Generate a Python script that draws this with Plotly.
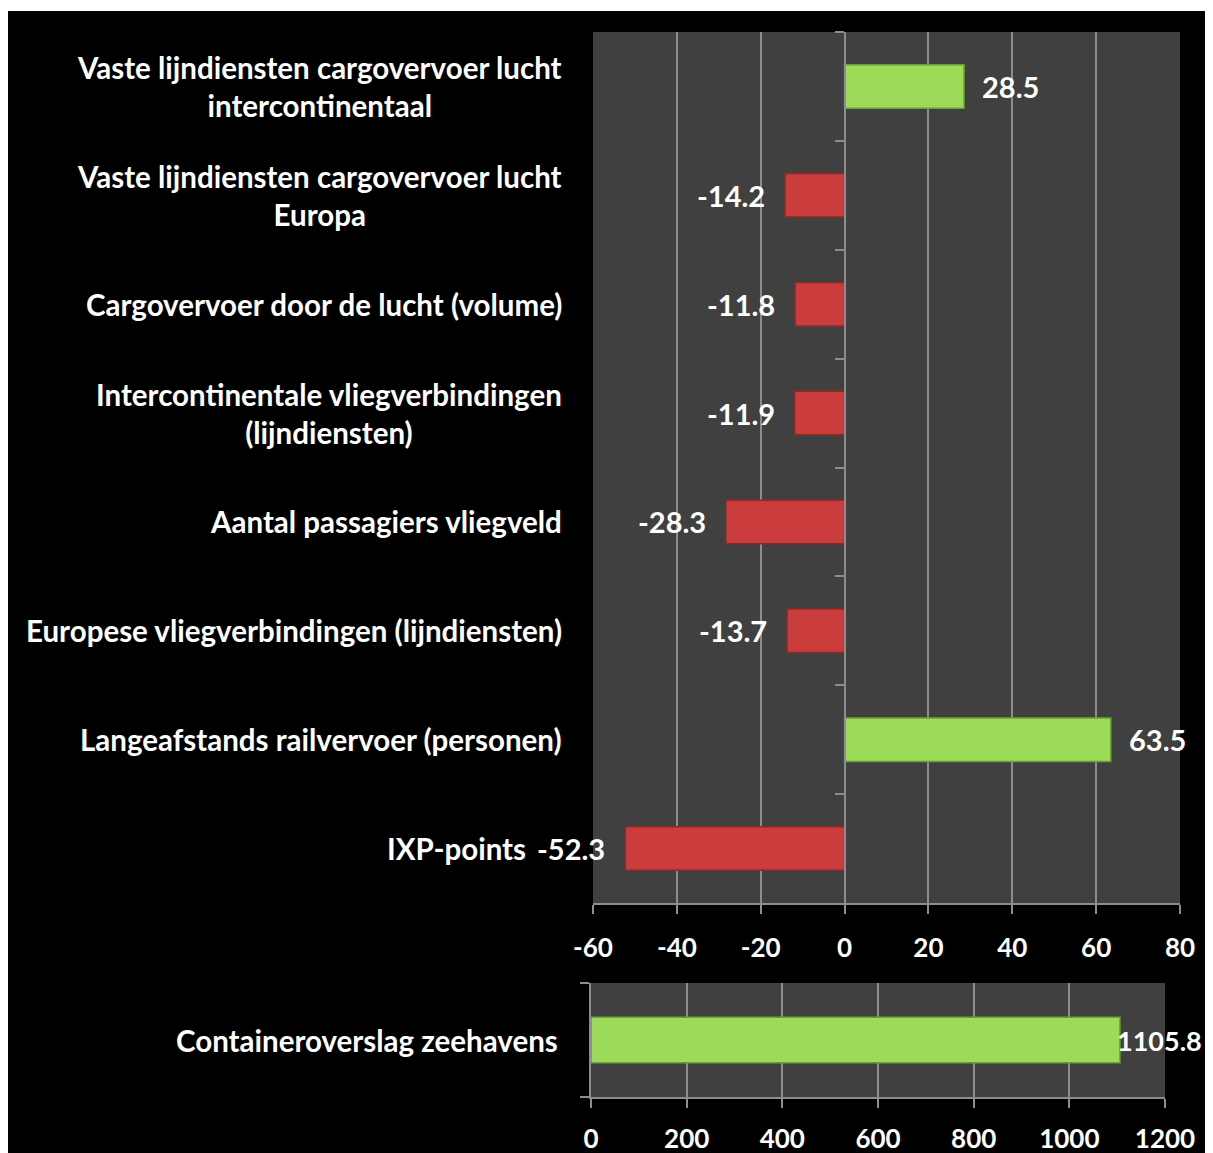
import plotly.graph_objects as go

# top panel: change in % per indicator (top to bottom as in the picture)
categories = [
    "Vaste lijndiensten cargovervoer lucht intercontinentaal",
    "Vaste lijndiensten cargovervoer lucht Europa",
    "Cargovervoer door de lucht (volume)",
    "Intercontinentale vliegverbindingen (lijndiensten)",
    "Aantal passagiers vliegveld",
    "Europese vliegverbindingen (lijndiensten)",
    "Langeafstands railvervoer (personen)",
    "IXP-points",
]
labels = [
    "Vaste lijndiensten cargovervoer lucht<br>intercontinentaal",
    "Vaste lijndiensten cargovervoer lucht<br>Europa",
    "Cargovervoer door de lucht (volume)",
    "Intercontinentale vliegverbindingen<br>(lijndiensten)",
    "Aantal passagiers vliegveld",
    "Europese vliegverbindingen (lijndiensten)",
    "Langeafstands railvervoer (personen)",
    "IXP-points",
]
values = [28.5, -14.2, -11.8, -11.9, -28.3, -13.7, 63.5, -52.3]

# bottom panel
bottom_categories = ["Containeroverslag zeehavens"]
bottom_values = [1105.8]

top_ticks = [-60, -40, -20, 0, 20, 40, 60, 80]
bottom_ticks = [0, 200, 400, 600, 800, 1000, 1200]

# the page body has an 8px margin; the figure starts there and runs to the window edge
OFF = 8
W, H = 1213 - OFF, 1153 - OFF
FONT = "Lato"
GREEN = "#9bdb57"
GREEN_EDGE = "#6f9c3c"
RED = "#cb3d3d"
RED_EDGE = "#8c2a2a"
GRID = "#8d8d8d"
PLOT_BG = "#404040"


def px_x(p):
    return (p - OFF) / W


def px_y(p):
    return 1 - (p - OFF) / H


def bar_colors(vals):
    return [GREEN if v >= 0 else RED for v in vals], [GREEN_EDGE if v >= 0 else RED_EDGE for v in vals]


fig = go.Figure()

fill, edge = bar_colors(values)
fig.add_trace(go.Bar(x=values, y=categories, orientation="h", width=0.4,
                     marker=dict(color=fill, line=dict(color=edge, width=1.5)),
                     xaxis="x", yaxis="y", showlegend=False, hoverinfo="x+y"))

fill2, edge2 = bar_colors(bottom_values)
fig.add_trace(go.Bar(x=bottom_values, y=bottom_categories, orientation="h", width=0.4,
                     marker=dict(color=fill2, line=dict(color=edge2, width=1.5)),
                     xaxis="x2", yaxis="y2", showlegend=False, hoverinfo="x+y"))

tickfont = dict(family=FONT, size=26, color="white", weight="bold")
top_x_dom = [px_x(593), px_x(1180)]
zero_pos = top_x_dom[0] + (0 - top_ticks[0]) / (top_ticks[-1] - top_ticks[0]) * (top_x_dom[1] - top_x_dom[0])

axis_style = dict(showline=True, linecolor=GRID, linewidth=2, automargin=False,
                  ticks="outside", ticklen=9, tickcolor=GRID, tickwidth=2)

fig.update_layout(
    width=W, height=H,
    margin=dict(l=0, r=0, t=0, b=0, autoexpand=False),
    paper_bgcolor="black",
    plot_bgcolor=PLOT_BG,
    showlegend=False,
    xaxis=dict(domain=top_x_dom, range=[top_ticks[0], top_ticks[-1]],
               tickvals=top_ticks, ticktext=[str(t) for t in top_ticks],
               showgrid=True, gridcolor=GRID, gridwidth=2,
               zeroline=True, zerolinecolor=GRID, zerolinewidth=2,
               tickfont=tickfont, ticklabelstandoff=12, anchor="y", **axis_style),
    yaxis=dict(domain=[px_y(903), px_y(32)], type="category",
               categoryorder="array", categoryarray=categories,
               range=[len(categories) - 0.5, -0.5],
               anchor="free", position=zero_pos, tickson="boundaries",
               showticklabels=False, showgrid=False, **axis_style),
    xaxis2=dict(domain=[px_x(591), px_x(1165)], range=[bottom_ticks[0], bottom_ticks[-1]],
                tickvals=bottom_ticks, ticktext=[str(t) for t in bottom_ticks],
                showgrid=True, gridcolor=GRID, gridwidth=2, zeroline=False,
                tickfont=tickfont, ticklabelstandoff=9, anchor="y2", **axis_style),
    yaxis2=dict(domain=[px_y(1097), px_y(983)], type="category",
                range=[-0.5, 0.5], anchor="x2", tickson="boundaries",
                showticklabels=False, showgrid=False, **axis_style),
    shapes=[dict(type="rect", xref="paper", yref="paper", x0=0, x1=1,
                 y0=px_y(11), y1=1, fillcolor="white", line=dict(width=0),
                 layer="below")],
)

label_font = dict(family=FONT, size=29.5, color="white", weight="bold")
value_font = dict(family=FONT, size=29, color="white", weight="bold")
bottom_value_font = dict(family=FONT, size=27, color="white", weight="bold")
# right edge of each category label (IXP-points sits left of its value label)
label_right = [564, 564, 564, 564, 564, 564, 564, 528]

annotations = []
for cat, lab, xr in zip(categories, labels, label_right):
    annotations.append(dict(xref="paper", yref="y", x=px_x(xr), y=cat, text=lab,
                            xanchor="right", yanchor="middle", align="center",
                            showarrow=False, font=label_font))
for cat, v in zip(categories, values):
    annotations.append(dict(xref="x", yref="y", x=v, y=cat, text=f"{v:.1f}",
                            xanchor="left" if v >= 0 else "right", yanchor="middle",
                            xshift=16 if v >= 0 else -18,
                            showarrow=False, font=value_font))
for cat in bottom_categories:
    annotations.append(dict(xref="paper", yref="y2", x=px_x(560), y=cat, text=cat,
                            xanchor="right", yanchor="middle", align="center",
                            showarrow=False, font=label_font))
for cat, v in zip(bottom_categories, bottom_values):
    annotations.append(dict(xref="x2", yref="y2", x=v, y=cat, text=f"{v:.1f}",
                            xanchor="left", yanchor="middle", xshift=-5,
                            showarrow=False, font=bottom_value_font))
fig.update_layout(annotations=annotations)

fig.write_html("out.html")
